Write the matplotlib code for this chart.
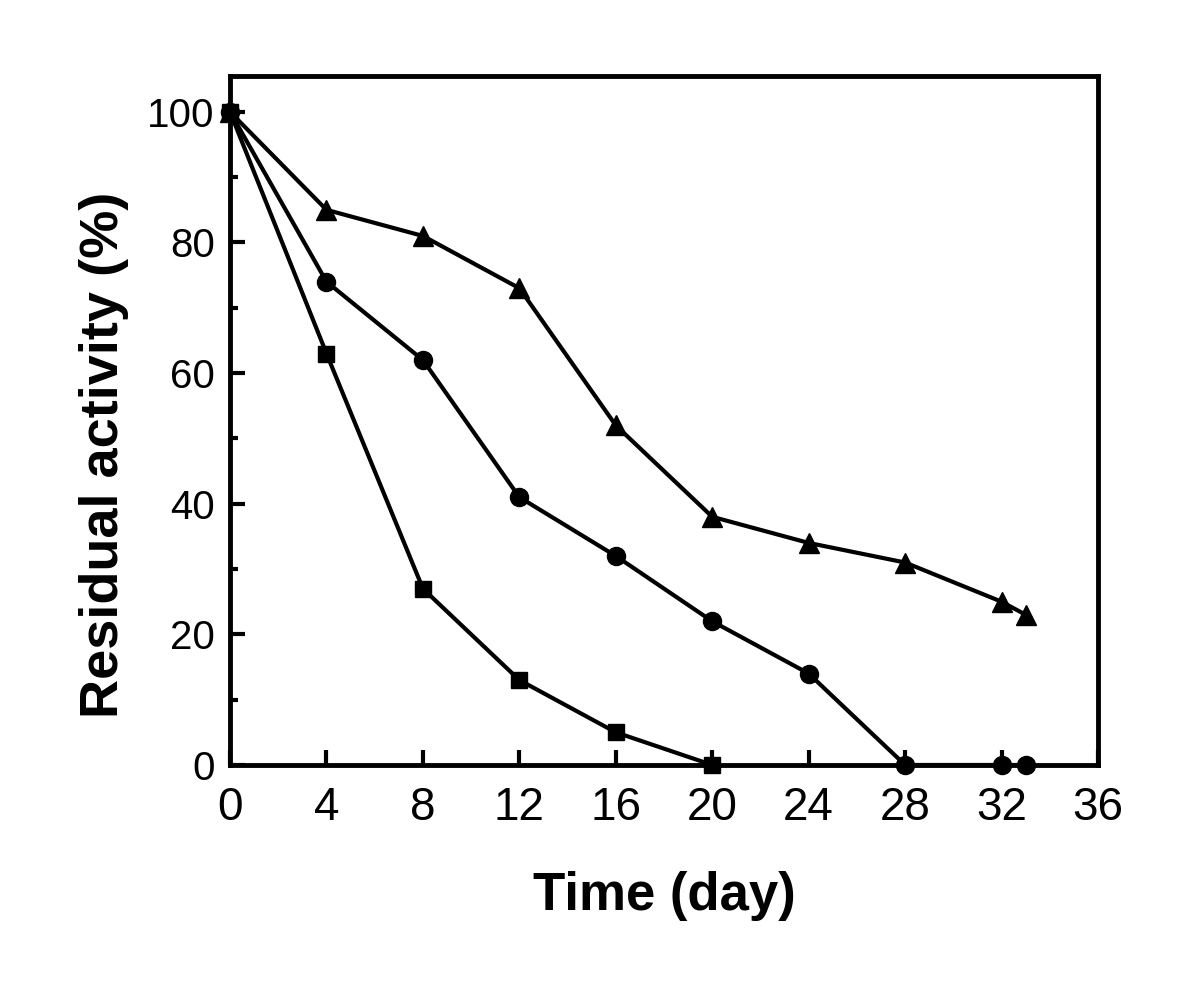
import matplotlib
matplotlib.use("Agg")
import matplotlib.pyplot as plt
from matplotlib.ticker import MultipleLocator

plt.rcParams['font.family'] = ['Liberation Sans', 'DejaVu Sans']

days_tri = [0, 4, 8, 12, 16, 20, 24, 28, 32, 33]
act_tri = [100, 85, 81, 73, 52, 38, 34, 31, 25, 23]
days_cir = [0, 4, 8, 12, 16, 20, 24, 28, 32, 33]
act_cir = [100, 74, 62, 41, 32, 22, 14, 0, 0, 0]
days_sq = [0, 4, 8, 12, 16, 20]
act_sq = [100, 63, 27, 13, 5, 0]
xticks = [0, 4, 8, 12, 16, 20, 24, 28, 32, 36]
yticks = [0, 20, 40, 60, 80, 100]

fig = plt.figure(figsize=(12, 9.89), dpi=100)
ax = fig.add_axes([0.1917, 0.2265, 0.7233, 0.6967])
kw = dict(color='black', lw=3, clip_on=False, zorder=3)
ax.plot(days_tri, act_tri, marker='^', ms=15, **kw)
ax.plot(days_cir, act_cir, marker='o', ms=13, **kw)
ax.plot(days_sq, act_sq, marker='s', ms=11, **kw)

ax.set_xlim(0, 36)
ax.set_ylim(0, 105.5)
ax.set_xticks(xticks)
ax.set_yticks(yticks)
ax.yaxis.set_minor_locator(MultipleLocator(10))
ax.tick_params(which='both', direction='in', width=3, top=False, right=False)
ax.tick_params(which='major', length=11)
ax.tick_params(which='minor', length=6)
ax.tick_params(axis='x', labelsize=33, pad=15)
ax.tick_params(axis='y', labelsize=29, pad=11)
for s in ax.spines.values():
    s.set_linewidth(3.5)

ax.set_xlabel('Time (day)', fontsize=38, fontweight='bold', labelpad=30)
ax.set_ylabel('Residual activity (%)', fontsize=39, fontweight='bold')
ax.yaxis.set_label_coords(-0.116, 0.45)

fig.savefig('out.png', dpi=100)
